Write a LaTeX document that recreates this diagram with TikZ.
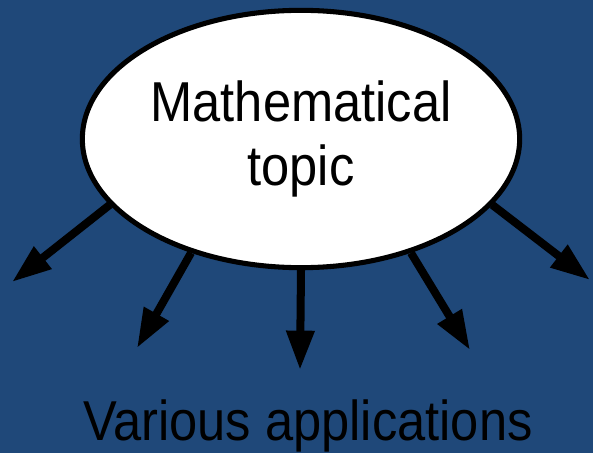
\documentclass[tikz,border=0pt]{standalone}
\usepackage{fontspec}
\setmainfont{Liberation Sans}[FakeStretch=0.9]
\usetikzlibrary{arrows.meta,shapes.geometric}
\definecolor{slideblue}{HTML}{1F4879}
\tikzset{topicbox/.style={ellipse,draw=black,line width=3.6pt,fill=white,inner sep=0pt,minimum width=311pt,minimum height=183pt,align=center,font=\fontsize{40}{46}\selectfont},
 spoke/.style={-{Triangle[length=28pt,width=19pt]},line width=5.7pt,black},
 label/.style={font=\fontsize{40}{46}\selectfont,inner sep=0pt}}
\begin{document}
\begin{tikzpicture}[x=0.025cm,y=-0.025cm]
\fill[slideblue] (0,0) rectangle (593,453);
\useasboundingbox (0,0) rectangle (593,453);
\node[topicbox] (topic) at (301,139) {Mathematical\\topic};
\coordinate (end1) at (12,282);
\coordinate (end2) at (137,348);
\coordinate (end3) at (300,370);
\coordinate (end4) at (470,350);
\coordinate (end5) at (590,280);
\draw[spoke] (topic.199) -- (end1);
\draw[spoke] (topic.226) -- (end2);
\draw[spoke] (topic.270) -- (end3);
\draw[spoke] (topic.314) -- (end4);
\draw[spoke] (topic.341) -- (end5);
\node[label,anchor=base] (apps) at (308,440) {Various applications};
\end{tikzpicture}
\end{document}
